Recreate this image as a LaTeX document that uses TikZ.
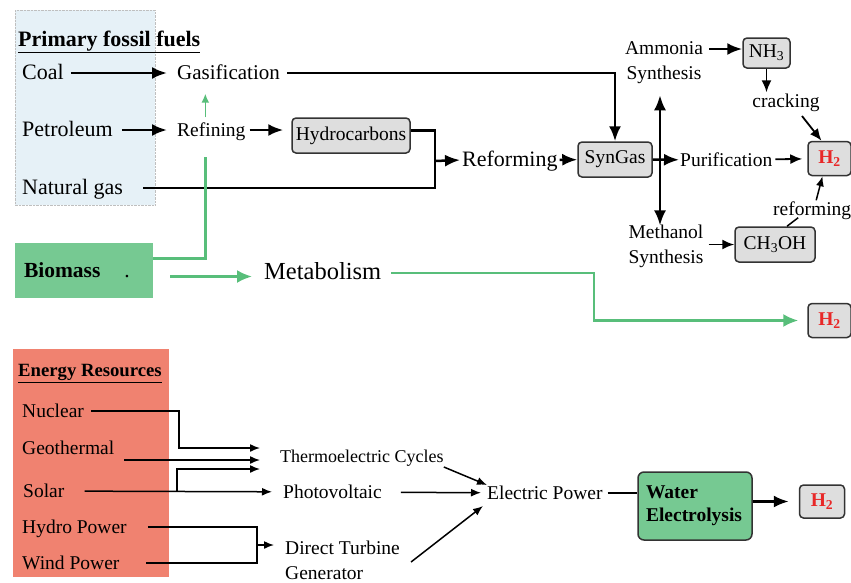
\documentclass[tikz,border=0pt]{standalone}
\usepackage{fontspec}
\setmainfont{Liberation Serif}
\usetikzlibrary{arrows.meta}
\definecolor{fossilblue}{RGB}{230,241,247}
\definecolor{biogreen}{RGB}{118,201,146}
\definecolor{linegreen}{RGB}{88,190,122}
\definecolor{salmon}{RGB}{240,130,112}
\definecolor{boxgray}{RGB}{222,222,222}
\definecolor{hred}{RGB}{232,40,40}
\begin{document}
\begin{tikzpicture}[x=1pt,y=-1pt,
		lbl/.style={font=\fontsize{19.5}{22}\selectfont,inner sep=1pt,text height=14pt,text depth=1pt,anchor=west},
		biglbl/.style={lbl,font=\fontsize{22}{24}\selectfont},
		twoline/.style={font=\fontsize{19.5}{25}\selectfont,inner sep=1pt,align=center},
		gbox/.style={draw=black!80,line width=1.5pt,rounded corners=4pt,fill=boxgray,inner sep=0pt,font=\fontsize{19.5}{22}\selectfont},
		hbox/.style={gbox,text=hred,font=\fontsize{19.5}{22}\selectfont\bfseries,minimum width=43pt,minimum height=34pt},
		bigarr/.style={line width=2.5pt,-{Latex[length=15pt,width=12pt]}},
		bigdbl/.style={line width=2.5pt,{Latex[length=15pt,width=12pt]}-{Latex[length=15pt,width=12pt]}},
		bigline/.style={line width=2.5pt},
		medarr/.style={line width=1.8pt,-{Latex[length=12pt,width=10pt]}},
		smallarr/.style={line width=1.5pt,-{Latex[length=10pt,width=8pt]}},
		smallline/.style={line width=1.5pt},
		greenline/.style={line width=2.4pt,draw=linegreen},
		greenarr/.style={greenline,-{Latex[length=15pt,width=13pt]}}]
	\useasboundingbox (0,0) rectangle (851,582);
	\filldraw[fill=fossilblue,draw=black!25,densely dotted] (15,10) rectangle (155,205);
	\fill[salmon] (13,349) rectangle (169,577);
	\node[lbl,font=\fontsize{22}{24}\selectfont\bfseries] (fossil) at (17,40) {\underline{Primary fossil fuels}};
	\node[biglbl] (coal) at (21,73) {Coal};
	\node[lbl,font=\fontsize{21}{24}\selectfont] (gasif) at (176,73) {Gasification};
	\node[biglbl] (petrol) at (21,130) {Petroleum};
	\node[lbl] (refin) at (176,130) {Refining};
	\node[biglbl] (natgas) at (21,188) {Natural gas};
	\node[gbox,minimum width=118pt,minimum height=35pt] (hydro) at (351,135.5) {Hydrocarbons};
	\node[biglbl] (reform) at (461,160) {Reforming};
	\node[gbox,minimum width=74pt,minimum height=35pt] (syngas) at (615,159.5) {SynGas};
	\node[twoline] (ammonia) at (664,63) {Ammonia\\Synthesis};
	\node[gbox,minimum width=47pt,minimum height=30pt] (nh3) at (766.5,53) {NH\textsubscript{3}};
	\node[lbl,anchor=center] (cracking) at (786,101) {cracking};
	\node[lbl] (purif) at (679,160) {Purification};
	\node[hbox] (h2a) at (829.5,158.5) {H\textsubscript{2}};
	\node[twoline] (methanol) at (666,246) {Methanol\\Synthesis};
	\node[gbox,minimum width=80pt,minimum height=35pt] (ch3oh) at (775,244.5) {CH\textsubscript{3}OH};
	\node[lbl] (reformb) at (772,209) {reforming};
	\node[fill=biogreen,text width=120pt,minimum height=55pt,inner xsep=9pt,inner ysep=0pt,align=left,font=\fontsize{21.5}{24}\selectfont\bfseries] (biomass) at (84,270.5) {Biomass\hspace{24pt}\mdseries.};
	\node[lbl,font=\fontsize{24.5}{27}\selectfont] (metab) at (263,273) {Metabolism};
	\node[hbox] (h2b) at (829.5,320.5) {H\textsubscript{2}};
	\node[lbl,font=\fontsize{18.7}{21}\selectfont\bfseries] (energy) at (17,370) {\underline{Energy Resources}};
	\node[lbl] (nuclear) at (21,411) {Nuclear};
	\node[lbl] (geo) at (21,448) {Geothermal};
	\node[lbl] (solar) at (22,491) {Solar};
	\node[lbl] (hydrop) at (21,527) {Hydro Power};
	\node[lbl] (windp) at (21,563) {Wind Power};
	\node[lbl,font=\fontsize{18}{20}\selectfont] (thermo) at (279,456) {Thermoelectric Cycles};
	\node[lbl] (photo) at (282,492) {Photovoltaic};
	\node[twoline,align=left,anchor=west] (dtg) at (284,560) {Direct Turbine\\Generator};
	\node[lbl] (elec) at (486,493) {Electric Power};
	\node[fill=biogreen,draw=black!80,line width=1.5pt,rounded corners=6pt,minimum width=114pt,minimum height=68pt,text width=98pt,inner xsep=8pt,align=left,font=\fontsize{19.5}{23}\selectfont\bfseries] (water) at (695,506) {Water\\Electrolysis};
	\node[hbox,minimum width=45pt,minimum height=33pt] (h2c) at (822,501.5) {H\textsubscript{2}};
	\draw[bigarr,shorten <=6pt,shorten >=9pt] (coal) -- (gasif);
	\draw[bigarr,shorten <=8pt,shorten >=9pt] (petrol) -- (refin);
	\draw[bigarr,shorten <=3pt,shorten >=8pt] (refin.east) -- (refin.east -| hydro.west);
	\draw[bigarr] ([xshift=6pt]gasif.east) -| (syngas.north);
	\coordinate (merge) at (435,161);
	\draw[bigline] ([yshift=5pt]hydro.east) -| (merge);
	\draw[bigline] ([xshift=19pt]natgas.east) -| (merge);
	\draw[bigarr,shorten >=1pt] (merge) -- (reform.west);
	\draw[bigarr,shorten <=1pt] (reform) -- (syngas);
	\draw[bigarr] (syngas) -- (purif);
	\draw[bigdbl,shorten <=10pt,shorten >=-2pt] ([xshift=-4pt]ammonia.south) -- ([xshift=-4pt]ammonia.south |- methanol.north);
	\draw[bigarr,shorten <=5pt] ([yshift=4pt]ammonia.east |- nh3) -- ([yshift=4pt]nh3.west);
	\draw[medarr] (nh3) -- (nh3 |- cracking.north);
	\draw[medarr,shorten <=8pt] ([xshift=11pt]cracking.south) -- ([xshift=-8pt]h2a.north);
	\draw[medarr,shorten <=2pt,shorten >=5pt] (purif) -- (h2a);
	\draw[medarr,shorten <=4pt] (methanol.east |- ch3oh) -- (ch3oh);
	\draw[smallline] ([xshift=12pt]ch3oh.north) -- ([xshift=-14pt]reformb.south);
	\draw[smallarr] ([xshift=4pt]reformb.north) -- ([xshift=-7pt]h2a.south);
	\draw[greenline,shorten >=18pt] ([yshift=12pt]biomass.east) -| ([xshift=-6pt]refin.south);
	\draw[greenline,line width=1.6pt,-{Latex[length=9pt,width=8pt]},shorten <=4pt,shorten >=12pt] ([xshift=-6pt]refin.north) -- ([xshift=-6pt]refin.north |- gasif.south);
	\coordinate (bioout) at ([yshift=-6pt]biomass.east);
	\draw[greenarr,shorten <=17pt,shorten >=11pt] (bioout) -- (bioout -| metab.west);
	\coordinate (gbend) at (594,320.5);
	\draw[greenarr,shorten >=9pt] ([xshift=9pt]metab.east) -| (gbend) -- (h2b);
	\coordinate (tin1) at (260,448);
	\coordinate (tin2) at (260,460);
	\coordinate (tin3) at (260,469);
	\coordinate (sbend) at (177,491);
	\coordinate (hw) at (257,545);
	\draw[smallarr] ([xshift=6pt]nuclear.east) -- ++(88,0) |- (tin1);
	\draw[smallarr] ([shift={(9,12)}]geo.east) -- (tin2);
	\draw[smallarr,shorten <=19pt,shorten >=10pt] (solar) -- (photo);
	\draw[smallarr] (sbend) |- (tin3);
	\draw[smallline] ([xshift=20pt]hydrop.east) -| (hw) |- ([xshift=25pt]windp.east);
	\draw[smallarr,shorten >=10pt] (hw) -- (hw -| dtg.west);
	\draw[smallarr] ([shift={(-1,11)}]thermo.east) -- ([shift={(1,-8)}]elec.west);
	\draw[smallarr,shorten <=18pt,shorten >=5pt] (photo) -- (elec);
	\draw[smallarr] ([shift={(10,2)}]dtg.east) -- ([shift={(-3,13)}]elec.west);
	\draw[smallline,shorten <=4pt] (elec) -- (elec -| water.west);
	\draw[bigarr,shorten >=10pt] (water.east |- h2c) -- (h2c);
\end{tikzpicture}
\end{document}
